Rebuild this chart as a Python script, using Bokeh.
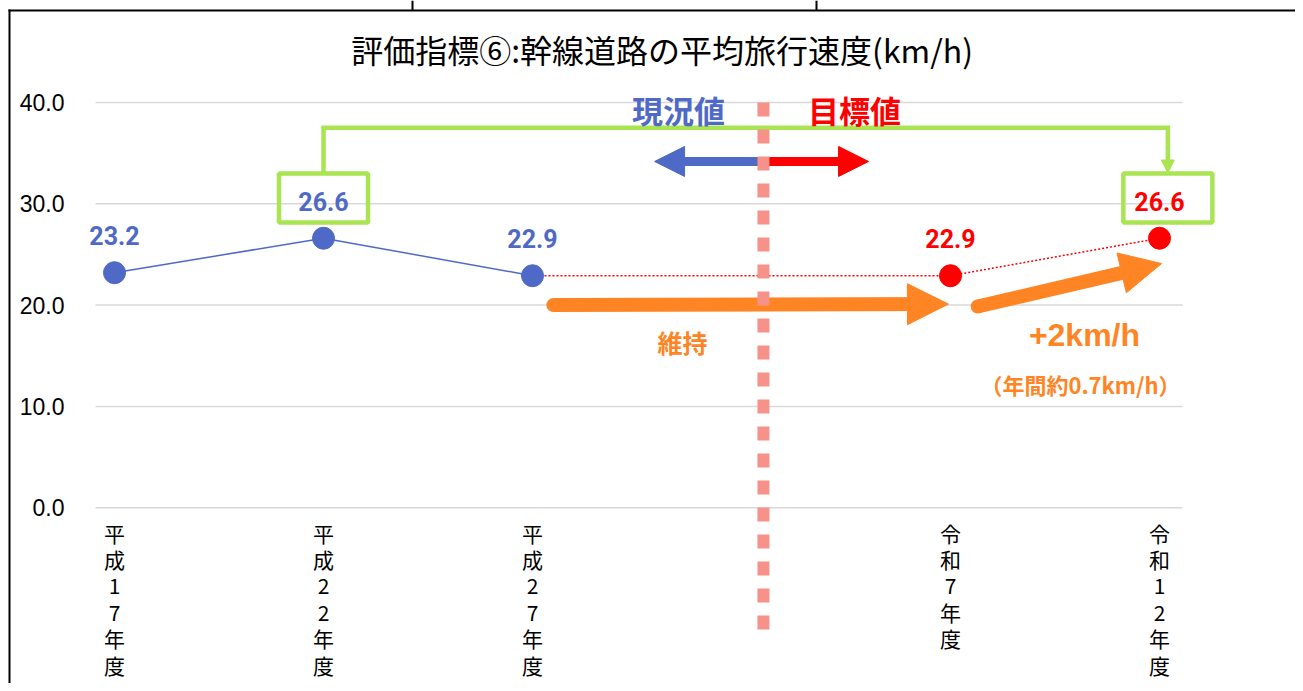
from bokeh.plotting import figure
from bokeh.models import (Range1d, Arrow, NormalHead, ColumnDataSource, LabelSet,
                          BoxAnnotation)
from bokeh.embed import file_html
from bokeh.resources import INLINE
from bokeh.core.properties import value

# ---------------- data ----------------
categories = ["平成17年度", "平成22年度", "平成27年度", "", "令和7年度", "令和12年度"]
current_years = ["平成17年度", "平成22年度", "平成27年度"]
current_values = [23.2, 26.6, 22.9]
target_years = ["令和7年度", "令和12年度"]
target_values = [22.9, 26.6]
y_ticks = [0, 10, 20, 30, 40]
y_tick_labels = ["0.0", "10.0", "20.0", "30.0", "40.0"]
title_text = "評価指標⑥:幹線道路の平均旅行速度(km/h)"
label_now = "現況値"
label_goal = "目標値"
label_keep = "維持"
label_plus = "+2km/h"
label_year = "（年間約0.7km/h）"

# ---------------- styles ----------------
BLUE = "#4F69C6"
RED = "#FF0000"
GREEN = "#A9E453"
ORANGE = "#FF8424"
SALMON = "#F7928A"
GRID = "#D9D9D9"
JP = value("Noto Sans CJK JP")

W, H = 1295, 683
p = figure(width=W, height=H, output_backend="svg", toolbar_location=None,
           x_range=Range1d(-0.5455, 5.6507), y_range=Range1d(-17.354, 50.069),
           min_border=0)
p.outline_line_color = None
p.axis.visible = False
p.grid.visible = False

# table borders of the surrounding document
for l, r, t, b in [(8, 10, 9, H), (8, W, 9, 11), (411, 413, 0, 10), (815, 817, 0, 10)]:
    p.add_layout(BoxAnnotation(left=l, right=r, top=t, bottom=b,
                               left_units="canvas", right_units="canvas",
                               top_units="canvas", bottom_units="canvas",
                               fill_color="black", fill_alpha=1, line_color=None))

# value grid and value labels
grid_x0, grid_x1 = -0.0909, 5.110
p.segment(x0=[grid_x0] * len(y_ticks), y0=y_ticks, x1=[grid_x1] * len(y_ticks), y1=y_ticks,
          line_color=GRID, line_width=1.5)
p.text(x=[grid_x0] * len(y_ticks), y=y_ticks, text=y_tick_labels, x_offset=-31,
       text_align="right", text_baseline="middle", text_font=value("Liberation Sans"),
       text_font_size="23px", text_color="black")

# title
p.text(x=[2.62], y=[45.25], text=[title_text], text_align="center", text_baseline="middle",
       text_font=JP, text_font_size="32px", text_color="black")

cur_x = [categories.index(c) for c in current_years]
tgt_x = [categories.index(c) for c in target_years]

# dotted target line (continues from the last current value)
p.line([cur_x[-1]] + tgt_x, [current_values[-1]] + target_values,
       line_color=RED, line_width=1.5, line_dash="2 2")

src_cur = ColumnDataSource(dict(x=cur_x, y=current_values,
                                lab=[f"{v:.1f}" for v in current_values]))
src_tgt = ColumnDataSource(dict(x=tgt_x, y=target_values,
                                lab=[f"{v:.1f}" for v in target_values]))

p.line('x', 'y', source=src_cur, line_color=BLUE, line_width=1.5)
p.scatter('x', 'y', source=src_cur, size=22, fill_color=BLUE, line_color=BLUE)
p.scatter('x', 'y', source=src_tgt, size=22, fill_color=RED, line_color=RED)

lab_kw = dict(x='x', y='y', text='lab', text_align="center", text_baseline="middle",
              y_offset=37, text_font=value("Roboto"), text_font_style="bold",
              text_font_size="25px")
p.add_layout(LabelSet(source=src_cur, text_color=BLUE, **lab_kw))
p.add_layout(LabelSet(source=src_tgt, text_color=RED, **lab_kw))

# category labels, stacked vertically
p.text(x=list(range(len(categories))), y=[-0.97] * len(categories),
       text=["\n".join(c) for c in categories], text_align="center",
       text_baseline="top", text_font=JP, text_font_size="21px",
       text_color="black", text_line_height=0.88)

# green bracket linking the two 26.6 values
half_w = 0.213
box_hi = 6.39
box_lo = 1.55
box_x1 = cur_x[1]
box_x2 = tgt_x[1] + 0.04
for bx, v in [(box_x1, current_values[1]), (box_x2, target_values[1])]:
    p.add_layout(BoxAnnotation(left=bx - half_w, right=bx + half_w,
                               top=v + box_hi, bottom=v + box_lo,
                               fill_color=None, fill_alpha=0,
                               line_color=GREEN, line_width=4.5, line_alpha=1))
box_top = current_values[1] + box_hi
bracket_y = 37.5
p.line([box_x1, box_x1, box_x2, box_x2], [box_top, bracket_y, bracket_y, 35.5],
       line_color=GREEN, line_width=4.5, line_join="miter")
p.add_layout(Arrow(x_start=box_x2, y_start=35.6, x_end=box_x2, y_end=box_top + 0.05,
                   line_color=GREEN, line_width=4.5,
                   end=NormalHead(size=13, fill_color=GREEN, line_color=GREEN, line_width=1)))

# orange arrows
arrow_starts_x = [2.10, 4.13]
arrow_starts_y = [20.0, 19.86]
p.scatter(arrow_starts_x, arrow_starts_y, size=14, fill_color=ORANGE, line_color=None)
p.add_layout(Arrow(x_start=2.10, y_start=20.0, x_end=3.99, y_end=20.1,
                   line_color=ORANGE, line_width=14,
                   end=NormalHead(size=41, fill_color=ORANGE, line_color=ORANGE, line_width=1)))
p.add_layout(Arrow(x_start=4.13, y_start=19.86, x_end=5.01, y_end=24.1,
                   line_color=ORANGE, line_width=14,
                   end=NormalHead(size=41, fill_color=ORANGE, line_color=ORANGE, line_width=1)))

# current / target direction arrows
divider_x = 3.105
p.add_layout(Arrow(x_start=divider_x, y_start=34.18, x_end=2.584, y_end=34.18,
                   line_color=BLUE, line_width=9,
                   end=NormalHead(size=30, fill_color=BLUE, line_color=BLUE, line_width=1)))
p.add_layout(Arrow(x_start=divider_x, y_start=34.18, x_end=3.608, y_end=34.18,
                   line_color=RED, line_width=9,
                   end=NormalHead(size=30, fill_color=RED, line_color=RED, line_width=1)))

# dashed divider between current and target
p.add_layout(Arrow(x_start=divider_x, y_start=40.0, x_end=divider_x, y_end=-12.75,
                   line_color=SALMON, line_width=12, line_dash="14 13", end=None,
                   level="overlay"))

# annotation texts
p.text(x=[2.699], y=[39.31], text=[label_now], text_align="center", text_baseline="middle",
       text_font=JP, text_font_style="bold", text_font_size="31px", text_color=BLUE)
p.text(x=[3.541], y=[39.31], text=[label_goal], text_align="center", text_baseline="middle",
       text_font=JP, text_font_style="bold", text_font_size="31px", text_color=RED)
p.text(x=[2.718], y=[16.31], text=[label_keep], text_align="center", text_baseline="middle",
       text_font=JP, text_font_style="bold", text_font_size="25px", text_color=ORANGE)
p.text(x=[4.641], y=[17.0], text=[label_plus], text_align="center", text_baseline="middle",
       text_font=value("Liberation Sans"), text_font_style="bold", text_font_size="32px",
       text_color=ORANGE)
p.text(x=[4.622], y=[12.26], text=[label_year], text_align="center", text_baseline="middle",
       text_font=JP, text_font_style="bold", text_font_size="22px", text_color=ORANGE)

open("out.html", "w").write(file_html(p, INLINE, title="chart"))
